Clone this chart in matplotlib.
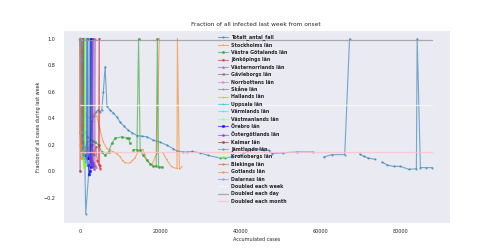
import numpy as np
import matplotlib.pyplot as plt
import seaborn as sns

sns.set_style('darkgrid')

nan = np.nan

# Totalt_antal_fall: accumulated cases vs fraction of cases during last week
total_x = [0, 50, 150, 300, 500, 700, 900, 1100, 1400, 2100, 2500, 3000, 3500, 4000,
           4500, 5000, 5400, 5800, 6250, 6700, 7500, 8300, 9200, 10000, 11000, 12000,
           13000, 14200, 15500, 16700, 18300, 20000, 21700, 23300, 24200, 25800, 26700,
           28000, 30000, 32000, 35000, 36250, 38000, 40000, 42500, 44200, 46000, 47100,
           47900, 50800, 54200, 58100, 59500, 60800, 62900, 66100, 67300, 68500, 69800,
           70800, 72000, 73750, 74600, 75400, 76700, 78300, 80000, 82100, 84000, 84200,
           85000, 86500, 88000]
total_y = [1.0, 1.0, 1.0, 1.0, 0.9, 0.7, 0.45, 0.2, -0.32, -0.03, 0.2, 0.38, 0.42, 0.45,
           0.46, 0.45, 0.46, 0.6, 0.79, 0.49, 0.46, 0.44, 0.41, 0.37, 0.34, 0.31,
           0.29, 0.27, 0.265, 0.26, 0.235, 0.22, 0.197, 0.17, 0.154, 0.146, 0.146,
           0.15, 0.139, 0.12, 0.10, 0.10, 0.11, 0.12, 0.16, 0.17, 0.16, 0.16,
           0.134, 0.14, 0.146, 0.146, nan, 0.108, 0.126, 0.126, 1.0, nan, 0.13,
           0.114, 0.10, 0.09, nan, 0.07, 0.048, 0.038, 0.038, 0.015, 0.02, 1.0,
           0.028, 0.028, 0.028]

stockholm_x = [0, 100, 200, 300, 500, 700, 750, 1000, 1500, 2200, 3000, 3700, 4200, 5000,
               5800, 6700, 7500, 8300, 9200, 10000, 10600, 11250, 12500, 13000, 13600,
               14600, 15700, 16200, 16700, 17900, 18750, 19200, 19750, 20200, 20800,
               21700, 22900, 24200, 24300, 24800, 25400]
stockholm_y = [1.0, 1.0, 1.0, 0.3, 0.25, 0.2, 1.0, 0.45, 0.42, 0.4, 0.42, 0.44, 0.41, 0.31,
               0.22, 0.17, 0.16, 0.146, 0.13, 0.108, 0.08, 0.063, 0.063, 0.08, 0.096,
               0.154, 0.164, 0.12, 0.08, 0.045, 0.108, 0.134, 1.0, nan, 0.134,
               0.083, 0.033, 0.02, 1.0, 0.015, 0.033]

vgotaland_x = [0, 50, 150, 300, 500, 800, 850, 1200, 1800, 2500, 3200, 3750, 4600, 5400,
               6250, 7100, 7900, 8750, 10400, 11700, 12100, 12500, 12800, 13300, 14200,
               14600, 15000, 15800, 16700, 17500, 18300, 19000, 19300, 19600, 20400]
vgotaland_y = [1.0, 1.0, 1.0, 0.35, 0.28, 0.25, 1.0, 0.3, 0.26, 0.24, 0.23, 0.22, 0.2,
               0.146, 0.12, 0.146, 0.21, 0.25, 0.26, 0.25, 0.25, 0.21, nan, 0.164,
               0.164, 1.0, 0.16, 0.12, 0.083, 0.058, 0.038, 0.038, 1.0, 0.033, 0.033]

jonkoping_x = [0, 60, 150, 250, 500, 800, 1200, 1700, 2300, 2900, 3400, 3900, 4300, 4600,
               4800, 4850, 5000]
jonkoping_y = [1.0, 1.0, 1.0, 0.3, 0.25, 0.2, 0.18, 0.22, 0.15, 0.2, 0.12, 0.18, 0.08,
               0.05, 1.0, 0.04, 0.02]

vnorrland_x = [0, 40, 100, 180, 400, 700, 1100, 1600, 2100, 2600, 3000, 3300, 3500,
               3700, 3750, 3900]
vnorrland_y = [1.0, 1.0, 1.0, 0.3, 0.25, 0.2, 0.15, 0.18, 0.12, 0.1, 0.08, 0.06, 0.04,
               1.0, 0.05, 0.03]

gavleborg_x = [0, 30, 80, 150, 400, 700, 1000, 1400, 1800, 2200, 2600, 2900, 3000, 3100]
gavleborg_y = [1.0, 1.0, 1.0, 0.25, 0.2, 0.15, 0.18, 0.12, 0.1, 0.12, 0.08, 0.05, 1.0, 0.04]

norrbotten_x = [0, 20, 60, 100, 300, 500, 700, 900, 1000, 1050]
norrbotten_y = [1.0, 1.0, 1.0, 0.25, 0.2, 0.15, 0.12, 0.1, 1.0, 0.08]

skane_x = [0, 50, 150, 250, 600, 900, 1300, 1700, 2000, 2200, 2300]
skane_y = [1.0, 1.0, 1.0, 0.3, 0.22, 0.18, 0.2, 0.14, 0.12, 1.0, 0.1]

halland_x = [0, 20, 60, 100, 300, 500, 800, 1100, 1200, 1250]
halland_y = [1.0, 1.0, 1.0, 0.3, 0.2, 0.18, 0.14, 0.1, 1.0, 0.08]

uppsala_x = [0, 30, 100, 180, 500, 800, 1200, 1600, 2000, 2300, 2500, 2550]
uppsala_y = [1.0, 1.0, 1.0, 0.3, 0.24, 0.2, 0.16, 0.14, 0.12, 0.1, 1.0, 0.08]

varmland_x = [0, 20, 60, 100, 300, 500, 700, 900, 1000, 1050]
varmland_y = [1.0, 1.0, 1.0, 0.28, 0.2, 0.15, 0.12, 0.08, 1.0, 0.06]

vmanland_x = [0, 20, 80, 130, 400, 700, 1000, 1300, 1450, 1500]
vmanland_y = [1.0, 1.0, 1.0, 0.3, 0.22, 0.18, 0.14, 0.12, 1.0, 0.1]

orebro_x = [0, 30, 100, 160, 500, 800, 1200, 1600, 1800, 1850, 2000, 2300, 2500, 2700, 2750]
orebro_y = [1.0, 1.0, 1.0, 0.3, 0.2, 0.15, 0.12, 0.1, 1.0, 0.1, 0.05, -0.02, 0.0, 1.0, 0.03]

ostergotland_x = [0, 40, 120, 200, 600, 1000, 1500, 2000, 2500, 2800, 3000, 3200, 3250, 3400]
ostergotland_y = [1.0, 1.0, 1.0, 0.28, 0.22, 0.18, 0.15, 0.12, 0.1, 0.08, 0.05, 1.0, 0.06, 0.02]

kalmar_x = [0, 10, 40, 100, 150, 350, 500, 650, 750, 800]
kalmar_y = [0.0, 1.0, 1.0, 1.0, 0.3, 0.2, 0.15, 0.12, 1.0, 0.1]

jamtland_x = [0, 10, 40, 80, 200, 300, 400, 420]
jamtland_y = [1.0, 1.0, 1.0, 0.3, 0.2, 0.15, 1.0, 0.1]

kronoberg_x = [0, 20, 60, 100, 300, 500, 700, 900, 1000, 1100, 1150]
kronoberg_y = [1.0, 1.0, 1.0, 0.3, 0.2, 0.15, 0.1, 0.06, 0.03, 1.0, 0.05]

blekinge_x = [0, 10, 30, 60, 150, 200, 220]
blekinge_y = [1.0, 1.0, 1.0, 0.3, 0.2, 1.0, 0.15]

gotland_x = [0, 5, 15, 30, 80, 100, 110]
gotland_y = [1.0, 1.0, 1.0, 0.3, 0.2, 1.0, 0.1]

dalarna_x = [0, 10, 30, 60, 100, 150, 220, 300, 400, 500, 650, 800, 1000, 1200, 1400,
             1600, 1700, 1800]
dalarna_y = [1.0, 1.0, 1.0, 0.95, 0.85, 0.7, 0.55, 0.4, 0.3, 0.25, 0.2, 0.15, 0.12,
             0.1, 0.08, 0.06, 1.0, 0.05]

series = [
    ('Totalt_antal_fall', total_x, total_y),
    ('Stockholms län', stockholm_x, stockholm_y),
    ('Västra Götalands län', vgotaland_x, vgotaland_y),
    ('Jönköpings län', jonkoping_x, jonkoping_y),
    ('Västernorrlands län', vnorrland_x, vnorrland_y),
    ('Gävleborgs län', gavleborg_x, gavleborg_y),
    ('Norrbottens län', norrbotten_x, norrbotten_y),
    ('Skåne län', skane_x, skane_y),
    ('Hallands län', halland_x, halland_y),
    ('Uppsala län', uppsala_x, uppsala_y),
    ('Värmlands län', varmland_x, varmland_y),
    ('Västmanlands län', vmanland_x, vmanland_y),
    ('Örebro län', orebro_x, orebro_y),
    ('Östergötlands län', ostergotland_x, ostergotland_y),
    ('Kalmar län', kalmar_x, kalmar_y),
    ('Jämtlands län', jamtland_x, jamtland_y),
    ('Kronobergs län', kronoberg_x, kronoberg_y),
    ('Blekinge län', blekinge_x, blekinge_y),
    ('Gotlands län', gotland_x, gotland_y),
    ('Dalarnas län', dalarna_x, dalarna_y),
]

# reference lines: fraction during last week if doubling each week / day / month
doubling_labels = ['Doubled each week', 'Doubled each day', 'Doubled each month']
doubling_fraction = [0.5, 0.992, 0.149]

colors = ['tab:blue', 'tab:orange', 'tab:green', 'tab:red', 'tab:purple', 'tab:brown',
          'tab:pink', 'tab:gray', 'tab:olive', 'tab:cyan', 'aqua', 'aquamarine', 'blue',
          'blueviolet', 'brown', 'cadetblue', 'chartreuse', 'chocolate', 'coral',
          'cornflowerblue']
markers = ['.', ',', 'o', 'v', '^', '<', '>', '1', '2', '3', '4', '8', 's', 'p', 'P',
           '*', 'h', '+', 'x', '+']
ref_colors = ['#fbfbfb', '#999999', '#ffc0cb']

fig, ax = plt.subplots(figsize=(5, 2.5), dpi=100)
ax.grid(False)

for (name, xs, ys), c, m in zip(series, colors, markers):
    ax.plot(xs, ys, color=c, marker=m, ms=1.2, lw=0.8, alpha=0.6, label=name)

x_span = [np.nanmin(total_x), np.nanmax(total_x)]
for lab, frac, c in zip(doubling_labels, doubling_fraction, ref_colors):
    ax.plot(x_span, [frac, frac], color=c, lw=0.9, alpha=0.8, label=lab)

ax.set_title('Fraction of all infected last week from onset', fontsize=4.2, pad=3)
ax.set_xlabel('Accumulated cases', fontsize=3.5, labelpad=2)
ax.set_ylabel('Fraction of all cases during last week', fontsize=3.5, labelpad=2)
ax.set_xticks([0, 20000, 40000, 60000, 80000])
ax.set_yticks([-0.2, 0.0, 0.2, 0.4, 0.6, 0.8, 1.0])
ax.tick_params(labelsize=3.5, pad=1.5)

ax.legend(loc='upper left', bbox_to_anchor=(0.39, 1.0), frameon=False,
          prop={'size': 3.45, 'weight': 'bold'}, labelspacing=0.5)

plt.savefig('out.png', dpi=100)
